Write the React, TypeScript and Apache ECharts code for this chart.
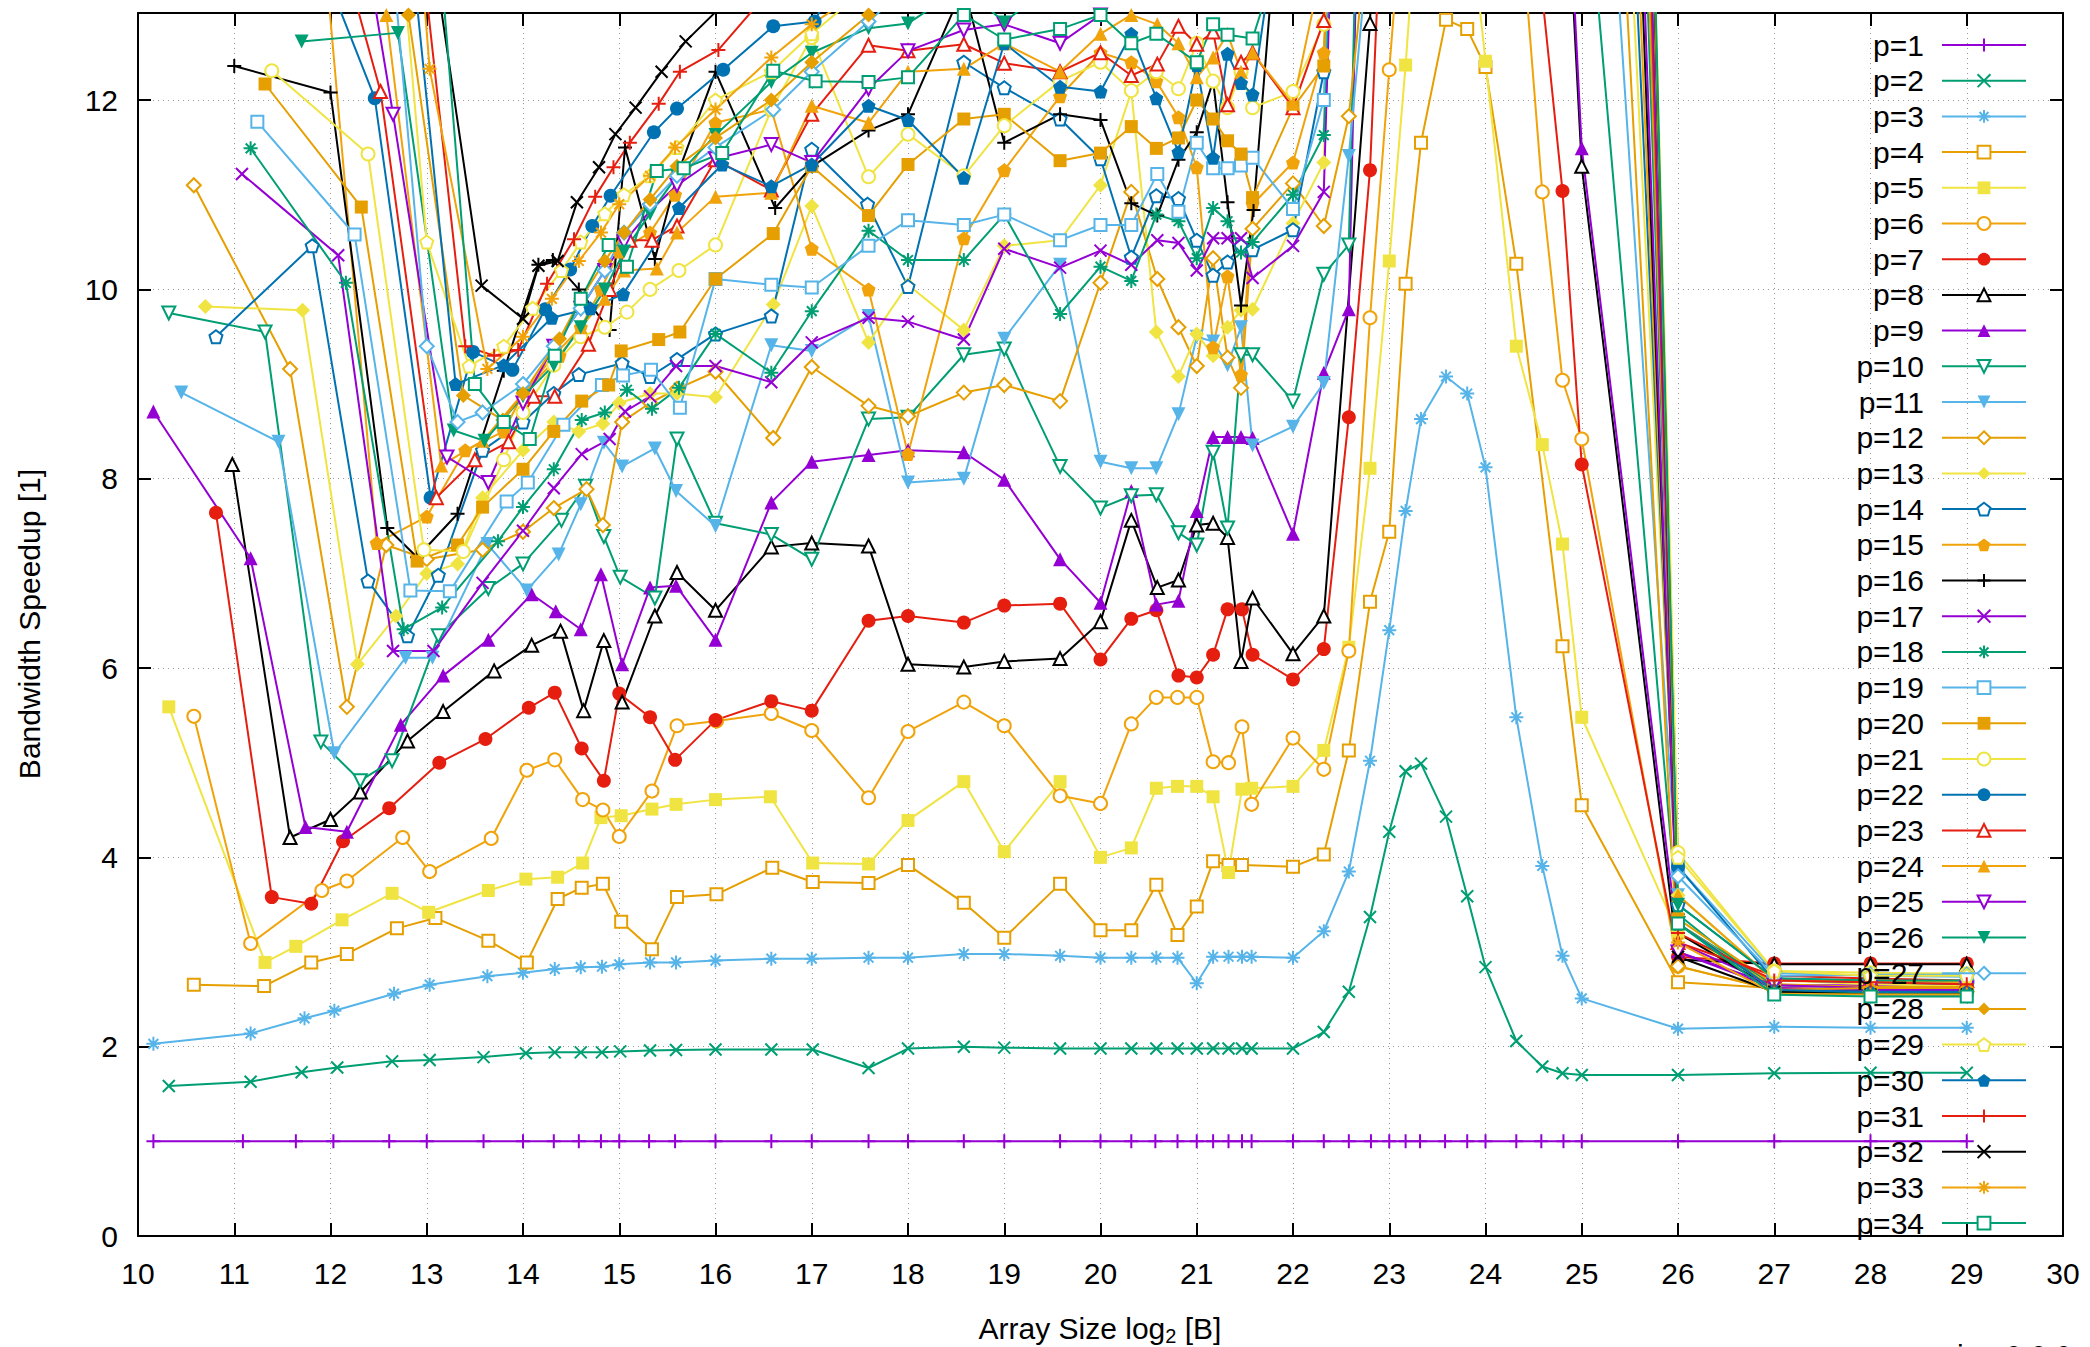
import React, { useEffect, useRef } from "react";
import * as echarts from "echarts";

// ---------- data (x = log2 array size, y = bandwidth speedup) ----------
const P1 = [[10.16,1],[11.09,1],[11.64,1],[12.03,1],[12.61,1],[13,1],[13.59,1],[14,1],[14.32,1],[14.58,1],[14.81,1],[15,1],[15.31,1],[15.58,1],[16,1],[16.58,1],[17,1],[17.59,1],[18,1],[18.58,1],[19,1],[19.58,1],[20,1],[20.32,1],[20.57,1],[20.8,1],[21,1],[21.17,1],[21.33,1],[21.47,1],[21.57,1],[22,1],[22.32,1],[22.58,1],[22.81,1],[23,1],[23.17,1],[23.32,1],[23.58,1],[23.81,1],[24,1],[24.32,1],[24.58,1],[24.81,1],[25,1],[26,1],[27,1],[28,1],[29,1]];
const P2 = [[10.32,1.585],[11.17,1.63],[11.7,1.73],[12.07,1.78],[12.64,1.845],[13.03,1.86],[13.59,1.89],[14.03,1.93],[14.33,1.94],[14.6,1.94],[14.82,1.94],[15.01,1.95],[15.32,1.96],[15.59,1.965],[16,1.97],[16.58,1.97],[17.01,1.97],[17.59,1.775],[18,1.98],[18.58,2.0],[19,1.99],[19.58,1.98],[20,1.98],[20.32,1.98],[20.58,1.98],[20.8,1.98],[21,1.98],[21.17,1.98],[21.33,1.98],[21.47,1.98],[21.57,1.98],[22,1.98],[22.32,2.155],[22.58,2.58],[22.8,3.37],[23,4.27],[23.17,4.91],[23.33,4.99],[23.59,4.43],[23.81,3.59],[24,2.84],[24.32,2.06],[24.59,1.79],[24.8,1.72],[25,1.7],[26,1.7],[27,1.72],[28,1.725],[29,1.725]];
const P3 = [[10.16,2.03],[11.17,2.14],[11.73,2.3],[12.04,2.38],[12.66,2.56],[13.03,2.655],[13.63,2.745],[14,2.78],[14.33,2.82],[14.6,2.84],[14.82,2.845],[15,2.87],[15.32,2.89],[15.59,2.89],[16,2.91],[16.58,2.93],[17,2.93],[17.59,2.94],[18,2.94],[18.58,2.98],[19,2.98],[19.58,2.96],[20,2.94],[20.32,2.94],[20.58,2.94],[20.8,2.94],[21,2.67],[21.17,2.95],[21.33,2.95],[21.47,2.95],[21.57,2.95],[22,2.94],[22.32,3.22],[22.58,3.85],[22.8,5.02],[23,6.4],[23.17,7.66],[23.33,8.63],[23.59,9.08],[23.81,8.9],[24,8.12],[24.32,5.48],[24.59,3.91],[24.8,2.96],[25,2.51],[26,2.19],[27,2.21],[28,2.2],[29,2.2]];
const P4 = [[10.58,2.655],[11.31,2.64],[11.8,2.89],[12.17,2.98],[12.69,3.25],[13.09,3.36],[13.64,3.12],[14.04,2.89],[14.36,3.56],[14.61,3.68],[14.83,3.72],[15.02,3.32],[15.34,3.03],[15.6,3.58],[16.01,3.61],[16.59,3.89],[17.01,3.74],[17.59,3.73],[18,3.92],[18.58,3.52],[19,3.15],[19.58,3.72],[20,3.23],[20.32,3.23],[20.58,3.71],[20.8,3.18],[21,3.48],[21.17,3.96],[21.33,3.92],[21.47,3.92],[22,3.9],[22.32,4.03],[22.58,5.13],[22.8,6.7],[23,7.44],[23.17,10.06],[23.33,11.55],[23.59,12.85],[23.81,12.75],[24,12.35],[24.32,10.27],[24.8,6.23],[25,4.55],[26,2.68],[27,2.62],[28,2.6],[29,2.6]];
const P5 = [[10.32,5.59],[11.32,2.89],[11.64,3.06],[12.12,3.34],[12.64,3.62],[13.02,3.42],[13.64,3.65],[14.03,3.77],[14.36,3.79],[14.62,3.94],[14.81,4.42],[15.02,4.44],[15.34,4.51],[15.59,4.56],[16,4.61],[16.57,4.64],[17.01,3.94],[17.59,3.93],[18,4.39],[18.58,4.8],[19,4.06],[19.58,4.8],[20,4.0],[20.32,4.1],[20.58,4.73],[20.8,4.75],[21,4.75],[21.17,4.64],[21.33,3.84],[21.47,4.72],[21.57,4.73],[22,4.75],[22.32,5.13],[22.58,6.22],[22.8,8.11],[23,10.3],[23.17,12.37],[23.32,14.5],[23.58,15],[23.81,14.2],[24,12.41],[24.32,9.4],[24.59,8.36],[24.8,7.31],[25,5.48],[26,3.2],[27,2.65],[28,2.63],[29,2.62]];
const P6 = [[10.58,5.49],[11.17,3.09],[11.91,3.65],[12.17,3.75],[12.75,4.21],[13.03,3.85],[13.67,4.2],[14.04,4.92],[14.33,5.03],[14.62,4.61],[14.83,4.5],[15,4.22],[15.34,4.7],[15.6,5.39],[16.01,5.44],[16.58,5.52],[17,5.34],[17.59,4.63],[18,5.33],[18.58,5.64],[19,5.39],[19.58,4.65],[20,4.57],[20.32,5.41],[20.58,5.69],[20.8,5.69],[21,5.69],[21.17,5.01],[21.33,5.0],[21.47,5.38],[21.57,4.56],[22,5.26],[22.32,4.93],[22.58,6.18],[22.8,9.7],[23,12.32],[23.17,14.5],[23.58,16],[24,16],[24.32,14.5],[24.59,11.03],[24.8,9.04],[25,8.42],[26,2.85],[27,2.6],[28,2.6],[29,2.6]];
const P7 = [[10.81,7.64],[11.39,3.58],[11.8,3.51],[12.13,4.17],[12.61,4.52],[13.13,5.0],[13.61,5.25],[14.06,5.58],[14.33,5.74],[14.61,5.15],[14.84,4.81],[15,5.73],[15.32,5.48],[15.58,5.03],[16,5.45],[16.58,5.65],[17,5.55],[17.59,6.5],[18,6.55],[18.58,6.48],[19,6.66],[19.58,6.68],[20,6.09],[20.32,6.52],[20.58,6.61],[20.81,5.92],[21,5.9],[21.17,6.14],[21.32,6.62],[21.47,6.62],[21.58,6.14],[22,5.88],[22.32,6.2],[22.58,8.65],[22.8,11.26],[23,16],[24,18],[24.58,13.2],[24.8,11.04],[25,8.15],[26,2.95],[27,2.88],[28,2.88],[29,2.88]];
const P8 = [[10.98,8.15],[11.58,4.21],[12,4.4],[12.31,4.69],[12.8,5.23],[13.17,5.54],[13.7,5.97],[14.09,6.24],[14.39,6.39],[14.63,5.55],[14.84,6.29],[15.03,5.64],[15.37,6.55],[15.6,7.01],[16,6.61],[16.58,7.28],[17,7.32],[17.59,7.29],[18,6.04],[18.58,6.01],[19,6.07],[19.58,6.1],[20,6.49],[20.32,7.56],[20.59,6.85],[20.81,6.93],[21,7.51],[21.17,7.53],[21.32,7.38],[21.46,6.07],[21.58,6.74],[22,6.15],[22.32,6.55],[22.8,12.81],[23.17,24],[24,28],[24.81,15],[25,11.3],[26,2.92],[27,2.87],[28,2.87],[29,2.87]];
const P9 = [[10.16,8.71],[11.17,7.16],[11.74,4.32],[12.17,4.27],[12.73,5.4],[13.17,5.92],[13.64,6.3],[14.09,6.78],[14.34,6.6],[14.6,6.41],[14.81,6.99],[15.03,6.04],[15.32,6.85],[15.59,6.87],[16,6.3],[16.58,7.75],[17,8.18],[17.59,8.25],[18,8.3],[18.58,8.28],[19,7.99],[19.58,7.15],[20,6.69],[20.32,7.87],[20.58,6.67],[20.81,6.71],[21,7.66],[21.17,8.44],[21.32,8.44],[21.46,8.44],[21.58,8.43],[22,7.42],[22.32,9.12],[22.58,9.79],[22.8,20],[23.5,30],[24,30],[24.81,15.3],[25,11.49],[26,3.1],[27,2.65],[28,2.65],[29,2.64]];
const P10 = [[10.32,9.75],[11.32,9.55],[11.9,5.22],[12.31,4.81],[12.64,5.02],[13.12,6.34],[13.64,6.84],[14,7.1],[14.4,7.56],[14.65,7.92],[14.84,7.39],[15.01,6.96],[15.37,6.74],[15.6,8.42],[16,7.53],[16.58,7.41],[17,7.15],[17.59,8.63],[18,8.65],[18.58,9.31],[19,9.37],[19.58,8.13],[20,7.69],[20.32,7.82],[20.58,7.83],[20.81,7.43],[21,7.3],[21.17,8.28],[21.32,7.48],[21.46,9.31],[21.58,9.31],[22,8.82],[22.32,10.16],[22.58,10.47],[22.8,20],[23,30],[24,30],[25,15],[26,3.3],[27,2.65],[28,2.62],[29,2.6]];
const P11 = [[10.45,8.91],[11.46,8.39],[12.04,5.1],[12.78,6.11],[13.06,6.11],[13.63,7.31],[14.04,6.82],[14.37,7.2],[14.6,7.73],[14.84,8.38],[15.03,8.13],[15.37,8.32],[15.59,7.87],[16,7.5],[16.58,9.41],[17,9.35],[17.59,9.72],[18,7.96],[18.58,8.0],[19,9.48],[19.58,10.26],[20,8.18],[20.32,8.11],[20.58,8.11],[20.81,8.68],[21,9.5],[21.17,9.45],[21.32,9.2],[21.46,9.6],[21.58,8.35],[22,8.55],[22.32,9.01],[22.58,11.41],[23,16],[24,22],[25,19],[26,3.6],[27,2.7],[28,2.7],[29,2.68]];
const P12 = [[10.58,11.1],[11.58,9.16],[12.17,5.59],[12.58,7.3],[13,7.15],[13.58,7.25],[14,7.44],[14.32,7.69],[14.66,7.89],[14.83,7.51],[15.03,8.6],[15.32,8.8],[15.6,8.95],[16,9.13],[16.6,8.43],[17,9.18],[17.59,8.77],[18,8.66],[18.58,8.91],[19,8.99],[19.58,8.82],[20,10.07],[20.32,11.03],[20.59,10.11],[20.81,9.6],[21,9.19],[21.17,10.33],[21.32,9.28],[21.46,8.96],[21.58,10.64],[22,11.12],[22.32,10.67],[22.58,11.83],[23,16],[24,25],[25,22],[26,2.85],[27,2.6],[28,2.58],[29,2.58]];
const P13 = [[10.7,9.82],[11.71,9.78],[12.28,6.04],[12.68,6.55],[13,7.0],[13.32,7.1],[13.58,7.8],[14,8.3],[14.32,8.6],[14.58,8.5],[14.83,8.58],[15,8.8],[15.32,8.9],[15.6,8.9],[16,8.86],[16.6,9.84],[17,10.88],[17.59,9.44],[18,10.05],[18.58,9.57],[19,10.46],[19.58,10.52],[20,11.1],[20.32,12.09],[20.58,9.55],[20.81,9.08],[21,9.53],[21.17,9.3],[21.32,9.6],[21.46,9.78],[21.58,9.79],[22,10.7],[22.32,11.34],[22.58,20],[23,30],[24,32],[25,24],[26,3.6],[27,2.7],[28,2.66],[29,2.64]];
const P14 = [[10.81,9.5],[11.81,10.46],[12.39,6.92],[12.8,6.34],[13.12,6.98],[13.58,8.3],[14,8.6],[14.32,8.9],[14.58,9.1],[15.03,9.22],[15.32,9.08],[15.6,9.26],[16,9.53],[16.58,9.72],[17,11.48],[17.58,10.9],[18,10.03],[18.58,12.4],[19,12.13],[19.58,11.8],[20,11.38],[20.32,10.34],[20.58,10.99],[20.81,10.96],[21,10.52],[21.17,10.15],[21.32,10.29],[21.46,10.46],[21.58,10.42],[22,10.63],[22.32,12.3],[22.58,20],[23,30],[24,34],[25,26],[26,3.5],[27,2.72],[28,2.7],[29,2.69]];
const P15 = [[11.9,14],[12.48,7.32],[13,7.6],[13.4,8.3],[13.8,8.5],[14,8.9],[14.38,9.3],[14.6,9.6],[14.81,10.0],[15,10.4],[15.32,10.6],[15.58,11.0],[16,11.76],[16.58,11.9],[17,10.43],[17.59,10.0],[18,8.26],[18.58,10.54],[19,11.26],[19.58,12.04],[20,12.5],[20.32,12.4],[20.58,12.2],[20.81,11.82],[21,11.29],[21.17,9.39],[21.32,10.14],[21.46,9.1],[21.58,10.9],[22,11.34],[22.32,12.5],[22.58,20],[23,30],[24,36],[25,28],[26,3.3],[27,2.62],[28,2.6],[29,2.6]];
const P16 = [[11,12.36],[12,12.08],[12.59,7.48],[12.9,7.17],[13.32,7.63],[13.8,9.14],[14.16,10.26],[14.31,10.31],[14.58,10.0],[14.9,9.57],[15.06,11.5],[15.37,10.32],[15.6,11.2],[16,12.3],[16.62,10.86],[17,11.3],[17.59,11.68],[18,11.85],[18.58,13.2],[19,11.55],[19.58,11.85],[20,11.79],[20.32,10.91],[20.59,10.78],[20.81,11.37],[21,11.66],[21.17,12.2],[21.32,10.92],[21.46,9.83],[21.59,10.84],[22,16],[23,30],[24,38],[25,30],[26,3.2],[27,2.6],[28,2.58],[29,2.57]];
const P17 = [[11.08,11.22],[12.08,10.36],[12.65,6.18],[13.07,6.18],[13.58,6.9],[14,7.45],[14.32,7.9],[14.61,8.26],[14.9,8.42],[15.06,8.71],[15.32,8.87],[15.59,9.19],[16,9.19],[16.58,9.02],[17,9.44],[17.59,9.7],[18,9.66],[18.58,9.47],[19,10.43],[19.58,10.23],[20,10.41],[20.32,10.26],[20.59,10.52],[20.81,10.49],[21,10.2],[21.17,10.54],[21.32,10.54],[21.46,10.54],[21.58,10.12],[22,10.46],[22.32,11.03],[22.58,20],[23,30],[24,38],[25,32],[26,3.0],[27,2.62],[28,2.6],[29,2.6]];
const P18 = [[11.17,11.49],[12.16,10.07],[12.76,6.41],[13.16,6.64],[13.74,7.34],[14,7.7],[14.32,8.1],[14.61,8.62],[14.85,8.7],[15.08,8.94],[15.34,8.74],[15.62,8.96],[16,9.53],[16.58,9.12],[17,9.77],[17.59,10.62],[18,10.31],[18.58,10.31],[19,10.79],[19.58,9.74],[20,10.24],[20.32,10.09],[20.58,10.79],[20.81,10.72],[21,10.33],[21.17,10.86],[21.32,10.72],[21.46,10.39],[21.58,10.5],[22,11.0],[22.32,11.63],[22.58,20],[23,32],[24,40],[25,34],[26,3.4],[27,2.58],[28,2.57],[29,2.57]];
const P19 = [[11.24,11.77],[12.25,10.58],[12.83,6.82],[13.24,6.81],[13.83,7.76],[14.05,7.96],[14.42,8.57],[14.82,8.99],[15.04,9.09],[15.33,9.15],[15.63,8.75],[16,10.11],[16.58,10.05],[17,10.02],[17.59,10.46],[18,10.73],[18.58,10.68],[19,10.79],[19.58,10.52],[20,10.68],[20.32,10.68],[20.59,11.22],[20.81,10.82],[21,11.55],[21.17,11.28],[21.32,11.28],[21.46,11.31],[21.58,11.39],[22,10.85],[22.32,12.0],[22.58,20],[23,32],[24,40],[25,35],[26,3.9],[27,2.78],[28,2.75],[29,2.74]];
const P20 = [[11.32,12.17],[12.32,10.87],[12.9,7.13],[13.32,7.3],[13.58,7.7],[14,8.1],[14.32,8.5],[14.61,8.82],[14.89,8.99],[15.02,9.35],[15.41,9.47],[15.63,9.55],[16,10.11],[16.6,10.59],[17,11.3],[17.59,10.78],[18,11.32],[18.58,11.8],[19,11.85],[19.58,11.36],[20,11.44],[20.32,11.72],[20.58,11.49],[20.81,11.6],[21,12.0],[21.17,11.8],[21.32,11.57],[21.46,11.43],[21.58,10.97],[22,11.92],[22.32,12.36],[22.58,20],[23,32],[24,40],[25,36],[26,3.35],[27,2.66],[28,2.63],[29,2.63]];
const P21 = [[11.39,12.31],[12.39,11.43],[12.97,7.25],[13.38,7.23],[13.8,8.2],[14,8.7],[14.32,9.2],[14.6,9.5],[14.85,9.6],[15.08,9.76],[15.32,10.0],[15.62,10.2],[16,10.47],[16.58,11.9],[17,12.66],[17.59,11.19],[18,11.64],[18.58,11.2],[19,11.73],[19.58,12.2],[20,12.4],[20.32,12.1],[20.58,12.3],[20.81,12.12],[21,12.6],[21.17,12.2],[21.32,11.92],[21.46,12.3],[21.58,11.92],[22,12.09],[22.32,12.8],[22.58,20],[23,32],[24,40],[25,37],[26,4.05],[27,2.8],[28,2.78],[29,2.77]];
const P22 = [[11.5,14.5],[12.46,12.02],[13.04,7.8],[13.48,9.34],[13.89,9.15],[14.23,9.79],[14.49,10.21],[14.72,10.67],[14.91,10.99],[15.36,11.66],[15.6,11.91],[16.08,12.32],[16.6,12.78],[17.03,12.83],[17.6,14],[18,15],[19,16],[20,17],[21,18],[22,20],[23,32],[24,40],[25,38],[26,3.9],[27,2.7],[28,2.68],[29,2.66]];
const P23 = [[12,14],[12.52,12.09],[13.1,7.8],[13.5,8.2],[13.85,8.39],[14.11,8.87],[14.33,8.87],[14.68,9.42],[14.9,10.0],[15.11,10.52],[15.34,10.52],[15.6,10.67],[16,11.37],[16.58,11.05],[17,11.85],[17.59,12.58],[18,12.52],[18.58,12.59],[19,12.39],[19.58,12.3],[20,12.5],[20.32,12.26],[20.59,12.38],[20.81,12.78],[21,12.59],[21.17,12.72],[21.32,11.95],[21.46,12.4],[21.58,12.5],[22,11.92],[22.32,12.84],[22.58,20],[23,32],[24,40],[25,39],[26,3.1],[27,2.75],[28,2.72],[29,2.7]];
const P24 = [[12.3,14],[12.58,12.9],[13.15,8.14],[13.58,8.4],[14,8.9],[14.32,9.3],[14.6,9.6],[14.85,9.9],[15.05,10.2],[15.39,10.22],[15.6,10.6],[16,10.98],[16.58,11.02],[17,11.94],[17.59,11.76],[18,12.3],[18.58,12.33],[19,12.6],[19.58,12.3],[20,12.7],[20.32,12.9],[20.59,12.8],[20.81,12.6],[21,12.24],[21.17,12.45],[21.32,12.7],[21.46,12.3],[21.58,12.5],[22,11.96],[22.32,13.5],[22.58,20],[23,32],[24,40],[25,40],[26,3.6],[27,2.7],[28,2.7],[29,2.68]];
const P25 = [[12.3,14],[12.65,11.85],[13.21,8.23],[13.64,7.96],[14,8.8],[14.32,9.4],[14.6,9.8],[14.85,10.2],[15.05,10.5],[15.32,10.83],[15.6,11.1],[16,11.38],[16.58,11.53],[17,11.34],[17.59,12.12],[18,12.52],[18.58,12.74],[19,12.8],[19.58,12.6],[20,12.9],[20.5,13.5],[21,14],[22,15],[23,32],[24,40],[25,41],[26,3.0],[27,2.65],[28,2.62],[29,2.62]];
const P26 = [[11.7,12.62],[12.7,12.71],[13.28,8.51],[13.6,8.4],[14,8.87],[14.32,9.2],[14.6,9.6],[14.85,10.0],[15.05,10.4],[15.32,10.8],[15.6,11.2],[16,11.63],[16.58,12.19],[17,12.5],[17.59,12.76],[18,12.81],[18.58,13.2],[19,12.82],[19.58,13.3],[20,13.5],[21,14],[22,15],[23,32],[24,40],[25,42],[26,3.5],[27,2.72],[28,2.7],[29,2.7]];
const P27 = [[12.6,14],[13,9.4],[13.32,8.6],[13.58,8.7],[14,9.0],[14.32,9.4],[14.6,9.8],[14.85,10.2],[15.05,10.6],[15.32,10.9],[15.6,11.2],[16,11.5],[16.6,11.9],[17,12.3],[17.59,12.83],[18,13.2],[19,13.8],[20,14],[21,14.5],[22,16],[23,32],[24,40],[25,42],[26,3.8],[27,2.75],[28,2.76],[29,2.76]];
const P28 = [[12.5,14],[12.81,12.9],[13.38,8.88],[13.79,8.62],[14,8.9],[14.38,9.48],[14.6,9.9],[14.85,10.3],[15.05,10.6],[15.32,10.95],[15.6,11.3],[16,11.6],[16.58,12.0],[17,12.4],[17.59,12.9],[18,13.3],[19,13.8],[20,14],[21,14.5],[22,16],[23,32],[24,40],[25,43],[26,3.3],[27,2.6],[28,2.62],[29,2.62]];
const P29 = [[12.7,14],[13,10.5],[13.44,9.19],[13.8,9.4],[14.1,9.8],[14.4,10.2],[14.6,10.5],[14.85,10.8],[15.05,11.0],[15.32,11.2],[15.6,11.5],[16,12.0],[16.58,12.3],[17,12.7],[17.59,13.2],[18,13.5],[19,14],[20,14],[21,14.5],[22,16],[23,32],[24,40],[25,43],[26,4.0],[27,2.8],[28,2.75],[29,2.75]];
const P30 = [[12.8,14],[13.3,9.0],[13.8,9.2],[14.3,9.7],[14.7,9.8],[15.04,9.95],[15.62,10.86],[16.07,11.32],[16.58,11.09],[17,11.32],[17.59,11.94],[18,11.79],[18.58,11.18],[19,12.6],[19.58,12.14],[20,12.09],[20.32,12.7],[20.58,12.02],[20.81,11.45],[21,12.37],[21.17,11.39],[21.32,12.49],[21.46,12.18],[21.58,12.06],[22,15],[23,32],[24,40],[25,44],[26,3.3],[27,2.6],[28,2.58],[29,2.58]];
const P31 = [[12.9,14],[13.4,9.4],[13.7,9.3],[13.95,9.36],[14.25,10.06],[14.53,10.53],[14.75,10.98],[14.94,11.29],[15.11,11.55],[15.41,11.96],[15.63,12.3],[16.03,12.53],[16.6,13.2],[17,13.8],[18,14.5],[20,15],[22,16],[23,32],[24,40],[25,44],[26,3.2],[27,2.7],[28,2.68],[29,2.66]];
const P32 = [[13,14],[13.57,10.04],[14,9.69],[14.16,10.25],[14.36,10.3],[14.56,10.92],[14.79,11.29],[14.96,11.64],[15.17,11.92],[15.44,12.3],[15.69,12.62],[16,12.93],[16.6,13.5],[17,14],[18,14.5],[20,15],[22,16],[23,32],[24,40],[25,45],[26,2.95],[27,2.58],[28,2.55],[29,2.55]];
const P33 = [[12.9,14],[13.03,12.33],[13.63,9.16],[14,9.5],[14.3,9.9],[14.58,10.3],[14.81,10.6],[15,10.9],[15.32,11.2],[15.58,11.5],[16,11.9],[16.58,12.45],[17,12.8],[17.58,13.2],[18,13.4],[19,14],[20,14.5],[22,16],[23,32],[24,40],[25,45],[26,3.1],[27,2.56],[28,2.55],[29,2.55]];
const P34 = [[13.1,14],[13.5,9.0],[13.8,8.6],[14.07,8.42],[14.33,9.3],[14.6,9.9],[14.89,10.47],[15.08,10.24],[15.39,11.25],[15.67,11.28],[16.07,11.44],[16.6,12.31],[17.04,12.2],[17.59,12.19],[18,12.24],[18.58,12.9],[19,12.64],[19.58,12.75],[20,12.9],[20.32,12.6],[20.58,12.7],[21,12.4],[21.17,12.8],[21.32,12.69],[21.58,12.65],[22,14],[23,32],[24,40],[25,45],[26,3.3],[27,2.55],[28,2.53],[29,2.53]];

const SERIES_DATA = [P1,P2,P3,P4,P5,P6,P7,P8,P9,P10,P11,P12,P13,P14,P15,P16,P17,P18,P19,P20,P21,P22,P23,P24,P25,P26,P27,P28,P29,P30,P31,P32,P33,P34];
const SERIES_NAMES = SERIES_DATA.map((_, i) => `p=${i + 1}`);

const X_MIN = 10, X_MAX = 30, X_STEP = 1;
const Y_MIN = 0, Y_MAX = 12.92, Y_STEP = 2;

// ---------- styles ----------
const PURPLE = "#9400d3", GREEN = "#009e73", LBLUE = "#56b4e9", ORANGE = "#e69f00",
  YELLOW = "#f0e442", ORANGE2 = "#f0a30a", RED = "#e51e10", BLACK = "#000000", BLUE = "#0072b2";
const COLORS = [
  PURPLE, GREEN, LBLUE, ORANGE, YELLOW, ORANGE2, RED, BLACK,
  PURPLE, GREEN, LBLUE, ORANGE, YELLOW, BLUE, ORANGE2, BLACK,
  PURPLE, GREEN, LBLUE, ORANGE, YELLOW, BLUE, RED, ORANGE2,
  PURPLE, GREEN, LBLUE, ORANGE, YELLOW, BLUE, RED, BLACK,
  ORANGE2, GREEN,
];
const PLUS = "path://M0,-10L0,10M-10,0L10,0";
const CROSS = "path://M-10,-10L10,10M-10,10L10,-10";
const STAR = "path://M0,-10L0,10M-10,0L10,0M-7,-7L7,7M-7,7L7,-7";
const PENT = "path://M0,-10L9.51,-3.09L5.88,8.09L-5.88,8.09L-9.51,-3.09Z";
// [symbol, open, lineOnly, rotate, size]
const MARKERS: [string, boolean, boolean, number, number][] = [
  [PLUS, false, true, 0, 14],
  [CROSS, false, true, 0, 12],
  [STAR, false, true, 0, 14],
  ["rect", true, false, 0, 12],
  ["rect", false, false, 0, 13],
  ["circle", true, false, 0, 13],
  ["circle", false, false, 0, 14],
  ["triangle", true, false, 0, 13],
  ["triangle", false, false, 0, 14],
  ["triangle", true, false, 180, 13],
  ["triangle", false, false, 180, 14],
  ["diamond", true, false, 0, 14],
  ["diamond", false, false, 0, 15],
  [PENT, true, false, 0, 13],
  [PENT, false, false, 0, 14],
];

const FONT = "Liberation Sans, Arial, sans-serif";

export default function App() {
  const ref = useRef<HTMLDivElement>(null);
  useEffect(() => {
    if (!ref.current) return;
    const chart = echarts.init(ref.current, null, { renderer: "svg" });
    const series = SERIES_DATA.map((data, i) => {
      const c = COLORS[i];
      const [symbol, open, lineOnly, rot, size] = MARKERS[i % 15];
      return {
        type: "line",
        name: SERIES_NAMES[i],
        data,
        xAxisIndex: 0,
        yAxisIndex: 0,
        symbol,
        symbolSize: size,
        symbolRotate: rot,
        showAllSymbol: true,
        clip: true,
        silent: true,
        lineStyle: { color: c, width: 2 },
        itemStyle: {
          color: open ? "#ffffff" : c,
          borderColor: c,
          borderWidth: open || lineOnly ? 2 : 0,
        },
        emphasis: { disabled: true },
      };
    });
    const axisLine = { show: true, onZero: false, lineStyle: { color: "#000", width: 2 } };
    const axisTick = { show: true, inside: true, length: 13, lineStyle: { color: "#000", width: 2 } };
    const split = { show: true, lineStyle: { color: "#9a9a9a", width: 1, type: [1, 4] } };
    chart.setOption({
      animation: false,
      backgroundColor: "#ffffff",
      grid: { left: 138, right: 27, top: 13, bottom: 111, containLabel: false },
      xAxis: [
        {
          type: "value", min: X_MIN, max: X_MAX, interval: X_STEP, position: "bottom",
          axisLine, axisTick, splitLine: split,
          axisLabel: { color: "#000", fontSize: 30, fontFamily: FONT, margin: 22 },
        },
        {
          type: "value", min: X_MIN, max: X_MAX, interval: X_STEP, position: "top",
          axisLine, axisTick, splitLine: { show: false }, axisLabel: { show: false },
        },
      ],
      yAxis: [
        {
          type: "value", min: Y_MIN, max: Y_MAX, interval: Y_STEP, position: "left",
          axisLine, axisTick, splitLine: split,
          axisLabel: { color: "#000", fontSize: 30, fontFamily: FONT, margin: 20, showMaxLabel: false },
        },
        {
          type: "value", min: Y_MIN, max: Y_MAX, interval: Y_STEP, position: "right",
          axisLine, axisTick, splitLine: { show: false }, axisLabel: { show: false },
        },
      ],
      legend: {
        show: true,
        orient: "vertical",
        align: "right",
        right: 58,
        top: 25,
        itemWidth: 84,
        itemHeight: 16,
        itemGap: 5.7,
        selectedMode: false,
        data: SERIES_NAMES,
        textStyle: { color: "#000", fontSize: 30, fontFamily: FONT, lineHeight: 30, padding: [0, 13, 0, 0] },
      },
      graphic: [
        {
          type: "text", x: 29, y: 624, rotation: Math.PI / 2,
          style: { text: "Bandwidth Speedup [1]", fill: "#000", fontSize: 30, fontFamily: FONT, align: "center", verticalAlign: "middle" },
        },
        {
          type: "text", x: 1100, y: 1328,
          style: {
            text: "Array Size log{s|2} [B]", fill: "#000", fontSize: 30, fontFamily: FONT,
            align: "center", verticalAlign: "middle",
            rich: { s: { fontSize: 20, fontFamily: FONT, fill: "#000", lineHeight: 20, padding: [16, 0, 0, 0] } },
          },
        },
        {
          type: "text", x: 2072, y: 1355,
          style: { text: "version 0.0.0", fill: "#000", fontSize: 30, fontFamily: FONT, align: "right", verticalAlign: "middle" },
        },
      ],
      series,
    });
    return () => chart.dispose();
  }, []);
  return <div ref={ref} style={{ position: "absolute", left: 0, top: 0, width: 2090, height: 1347 }} />;
}
